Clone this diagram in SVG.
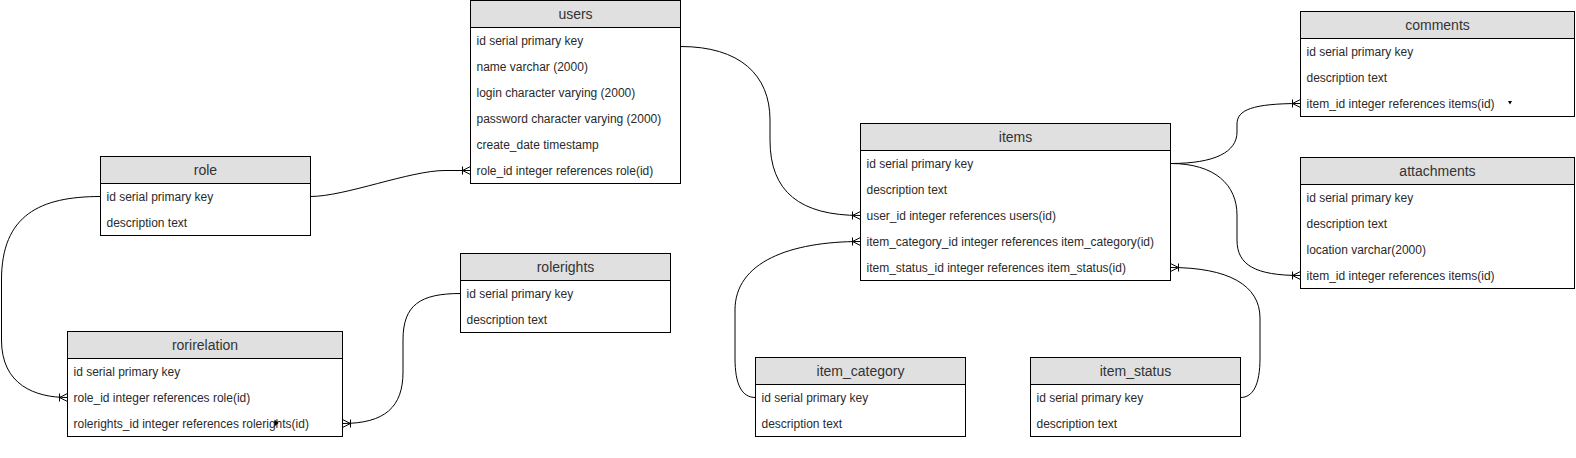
<svg xmlns="http://www.w3.org/2000/svg" width="1576" height="458" viewBox="0 0 1576 458">
<defs>
<style>
.box{fill:#ffffff;stroke:#000000;stroke-width:1}
.hdr{fill:#e0e0e0;stroke:#000000;stroke-width:1}
.ht{font-family:"Liberation Sans",Arial,sans-serif;font-size:14px;fill:#333333;text-anchor:middle}
.rt{font-family:"Liberation Sans",Arial,sans-serif;font-size:12px;fill:#2a2a2a}
.edge{fill:none;stroke:#000000;stroke-width:1;marker-end:url(#crow)}
.mk{fill:none;stroke:#000000;stroke-width:1}
</style>
<marker id="crow" markerUnits="userSpaceOnUse" viewBox="-10 -6 12 12" refX="0" refY="0" markerWidth="12" markerHeight="12" orient="auto" overflow="visible">
<path class="mk" d="M0,-4 L-8,0 L0,4 M-8,-4 L-8,4"/>
</marker>
</defs>

<g id="connectors">
<path class="edge" d="M310.5,196.5 C345,196.5 410,170.5 445,170.5 L470.5,170.5"/>
<path class="edge" d="M100.5,196.5 C40,196.5 1.5,215 1.5,280 L1.5,340 C1.5,385 35,397.5 67.5,397.5"/>
<path class="edge" d="M460.5,293.5 C420,293.5 403,305 403,340 L403,372 C403,407 385,423.5 342.5,423.5"/>
<path class="edge" d="M680.5,46.5 C740,46.5 770,75 770,120 L770,140 C770,192 800,215.5 860.5,215.5"/>
<path class="edge" d="M755.5,397.5 C742,397.5 735,385 735,358 L735,310 C735,262 790,241.5 860.5,241.5"/>
<path class="edge" d="M1240.5,397.5 C1253,397.5 1260,385 1260,358 L1260,318 C1260,285 1228,267.5 1170.5,267.5"/>
<path class="edge" d="M1170.5,163.5 C1215,163.5 1237,152 1237,132 L1237,124 C1237,110 1252,103.5 1300.5,103.5"/>
<path class="edge" d="M1170.5,163.5 C1215,163.5 1237,185 1237,215 L1237,240 C1237,265 1255,275.5 1300.5,275.5"/>
</g>

<g id="users">
<rect class="box" x="470.5" y="0.5" width="210" height="183"/>
<rect class="hdr" x="470.5" y="0.5" width="210" height="27"/>
<text class="ht" x="575.5" y="19">users</text>
<text class="rt" x="476.5" y="44.5">id serial primary key</text>
<text class="rt" x="476.5" y="70.5">name varchar (2000)</text>
<text class="rt" x="476.5" y="96.5">login character varying (2000)</text>
<text class="rt" x="476.5" y="122.5">password character varying (2000)</text>
<text class="rt" x="476.5" y="148.5">create_date timestamp</text>
<text class="rt" x="476.5" y="174.5">role_id integer references role(id)</text>
</g>

<g id="role">
<rect class="box" x="100.5" y="156.5" width="210" height="79"/>
<rect class="hdr" x="100.5" y="156.5" width="210" height="27"/>
<text class="ht" x="205.5" y="175">role</text>
<text class="rt" x="106.5" y="200.5">id serial primary key</text>
<text class="rt" x="106.5" y="226.5">description text</text>
</g>

<g id="rorirelation">
<rect class="box" x="67.5" y="331.5" width="275" height="105"/>
<rect class="hdr" x="67.5" y="331.5" width="275" height="27"/>
<text class="ht" x="205" y="350">rorirelation</text>
<text class="rt" x="73.5" y="375.5">id serial primary key</text>
<text class="rt" x="73.5" y="401.5">role_id integer references role(id)</text>
<text class="rt" x="73.5" y="427.5">rolerights_id integer references rolerights(id)</text>
<path d="M274.5,419.5 L278.5,423 L274.5,426.5 Z" fill="#000000"/>
</g>

<g id="rolerights">
<rect class="box" x="460.5" y="253.5" width="210" height="79"/>
<rect class="hdr" x="460.5" y="253.5" width="210" height="27"/>
<text class="ht" x="565.5" y="272">rolerights</text>
<text class="rt" x="466.5" y="297.5">id serial primary key</text>
<text class="rt" x="466.5" y="323.5">description text</text>
</g>

<g id="items">
<rect class="box" x="860.5" y="123.5" width="310" height="157"/>
<rect class="hdr" x="860.5" y="123.5" width="310" height="27"/>
<text class="ht" x="1015.5" y="142">items</text>
<text class="rt" x="866.5" y="167.5">id serial primary key</text>
<text class="rt" x="866.5" y="193.5">description text</text>
<text class="rt" x="866.5" y="219.5">user_id integer references users(id)</text>
<text class="rt" x="866.5" y="245.5">item_category_id integer references item_category(id)</text>
<text class="rt" x="866.5" y="271.5">item_status_id integer references item_status(id)</text>
</g>

<g id="comments">
<rect class="box" x="1300.5" y="11.5" width="274" height="105"/>
<rect class="hdr" x="1300.5" y="11.5" width="274" height="27"/>
<text class="ht" x="1437.5" y="30">comments</text>
<text class="rt" x="1306.5" y="55.5">id serial primary key</text>
<text class="rt" x="1306.5" y="81.5">description text</text>
<text class="rt" x="1306.5" y="107.5">item_id integer references items(id)</text>
<path d="M1508,101 L1512,101 L1510,104.5 Z" fill="#000000"/>
</g>

<g id="attachments">
<rect class="box" x="1300.5" y="157.5" width="274" height="131"/>
<rect class="hdr" x="1300.5" y="157.5" width="274" height="27"/>
<text class="ht" x="1437.5" y="176">attachments</text>
<text class="rt" x="1306.5" y="201.5">id serial primary key</text>
<text class="rt" x="1306.5" y="227.5">description text</text>
<text class="rt" x="1306.5" y="253.5">location varchar(2000)</text>
<text class="rt" x="1306.5" y="279.5">item_id integer references items(id)</text>
</g>

<g id="item_category">
<rect class="box" x="755.5" y="357.5" width="210" height="79"/>
<rect class="hdr" x="755.5" y="357.5" width="210" height="27"/>
<text class="ht" x="860.5" y="376">item_category</text>
<text class="rt" x="761.5" y="401.5">id serial primary key</text>
<text class="rt" x="761.5" y="427.5">description text</text>
</g>

<g id="item_status">
<rect class="box" x="1030.5" y="357.5" width="210" height="79"/>
<rect class="hdr" x="1030.5" y="357.5" width="210" height="27"/>
<text class="ht" x="1135.5" y="376">item_status</text>
<text class="rt" x="1036.5" y="401.5">id serial primary key</text>
<text class="rt" x="1036.5" y="427.5">description text</text>
</g>
</svg>
